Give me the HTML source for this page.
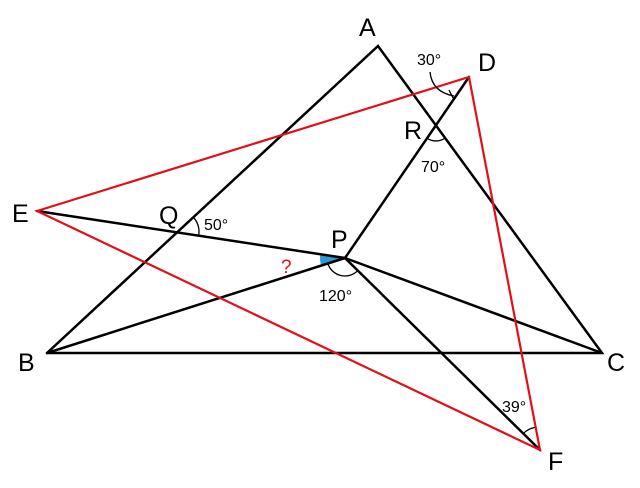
<!DOCTYPE html>
<html><head><style>body{margin:0;background:#fff}svg{display:block}</style></head><body>
<svg width="640" height="488" viewBox="0 0 640 488" xmlns="http://www.w3.org/2000/svg" font-family="Liberation Sans, DejaVu Sans, sans-serif">
<path d="M345,258 L320.3,254.2 A25,25 0 0 0 321.2,265.6 Z" fill="#2a9bd6"/>
<g stroke="#000" stroke-width="2.5" fill="none" stroke-linecap="round">
<polyline points="47,353 378,46 602,353 47,353"/>
<line x1="37" y1="211" x2="345" y2="258"/>
<line x1="47" y1="353" x2="345" y2="258"/>
<line x1="345" y1="258" x2="602" y2="353"/>
<line x1="345" y1="258" x2="469" y2="77"/>
<line x1="345" y1="258" x2="540" y2="450"/>
</g>
<g stroke="#e0101a" stroke-width="2.2" fill="none">
<polygon points="37,211 469,77 540,450"/>
</g>
<g stroke="#000" stroke-width="1.3" fill="none">
<path d="M327.8,263.5 A18,18 0 0 0 357.8,270.6"/>
<path d="M198.7,235.3 A22,22 0 0 0 193.1,217.0"/>
<path d="M430,72 Q432,92 454,96"/>
<line x1="449" y1="90" x2="453" y2="98"/>
<path d="M427,138.2 A16,16 0 0 0 445.4,137.9"/>
<path d="M535,427.4 A22,22 0 0 0 523.3,433.6"/>
</g>
<g font-size="25" fill="#000">
<text x="359" y="36">A</text>
<text x="478" y="71">D</text>
<text x="404" y="139">R</text>
<text x="12" y="222">E</text>
<text x="159" y="224">Q</text>
<text x="331" y="248">P</text>
<text x="18" y="371">B</text>
<text x="607" y="371">C</text>
<text x="548" y="470">F</text>
</g>
<g font-size="16" fill="#000">
<text x="417" y="65">30°</text>
<text x="421" y="172">70°</text>
<text x="204" y="230">50°</text>
<text x="319" y="301">120°</text>
<text x="502" y="412">39°</text>
</g>
<text x="281" y="273" font-size="19" fill="#e0101a">?</text>
</svg>
</body></html>
